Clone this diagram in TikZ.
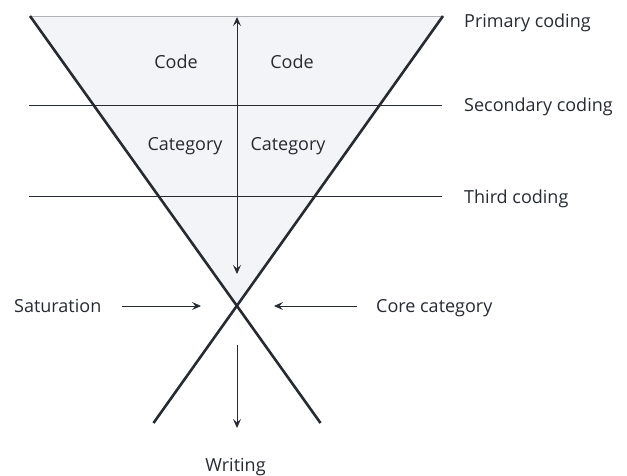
\documentclass[tikz,border=0pt]{standalone}
\usepackage{fontspec}
\setmainfont{Open Sans}
\usetikzlibrary{arrows.meta}
\definecolor{ink}{HTML}{262A31}
\definecolor{fillc}{HTML}{F3F4F8}
\definecolor{edge}{HTML}{B0B2B6}
\tikzset{
  lbl/.style={font=\fontsize{18}{20}\selectfont, text=ink, inner sep=0pt, anchor=base},
  lbll/.style={lbl, anchor=base west},
  thick line/.style={draw=ink, line width=2.6pt},
  thin line/.style={draw=ink, line width=1pt},
  arr/.style={draw=ink, line width=1pt, -{Stealth[length=9pt,width=8pt,inset=3.5pt]}},
}
\begin{document}
\begin{tikzpicture}[x=1pt,y=-1pt]
\useasboundingbox (0,0) rectangle (627,476);
% coordinates
\coordinate (TL) at (30,16);
\coordinate (TR) at (443,16);
\coordinate (X) at (237,306);
\coordinate (BL) at (153.5,423);
\coordinate (BR) at (320.5,423);
% fill
\fill[fillc] (TL) -- (TR) -- (X) -- cycle;
\draw[edge, line width=0.8pt] (TL) -- (TR);
% horizontal lines
\coordinate (H1a) at (29,106); \coordinate (H1b) at (442,106);
\coordinate (H2a) at (29,197); \coordinate (H2b) at (442,197);
\draw[thin line] (H1a) -- (H1b);
\draw[thin line] (H2a) -- (H2b);
% slanted lines
\draw[thick line] (TL) -- (BR);
\draw[thick line] (TR) -- (BL);
% vertical double arrow
\coordinate (V1) at (237,17);
\coordinate (V2) at (237,274);
\draw[arr, {Stealth[length=9pt,width=8pt,inset=3.5pt]}-{Stealth[length=9pt,width=8pt,inset=3.5pt]}] (V1) -- (V2);
% labels inside
\node[lbl] (c1) at (176,69) {Code};
\node[lbl] (c2) at (292,69) {Code};
\node[lbl] (k1) at (185,151) {Category};
\node[lbl] (k2) at (288,151) {Category};
% right labels
\node[lbll] (p) at (464,28) {Primary coding};
\node[lbll] (s) at (464,112) {Secondary coding};
\node[lbll] (t) at (464,204) {Third coding};
% saturation / core
\node[lbll] (sat) at (14,312) {Saturation};
\node[lbll] (core) at (376,312) {Core category};
\coordinate (sa1) at (122,306); \coordinate (sa2) at (201,306);
\coordinate (ca1) at (357,306); \coordinate (ca2) at (274,306);
\draw[arr] (sa1) -- (sa2);
\draw[arr] (ca1) -- (ca2);
% writing
\coordinate (w1) at (237,345); \coordinate (w2) at (237,428);
\draw[arr] (w1) -- (w2);
\node[lbl] (wr) at (235.5,471) {Writing};
\end{tikzpicture}
\end{document}
